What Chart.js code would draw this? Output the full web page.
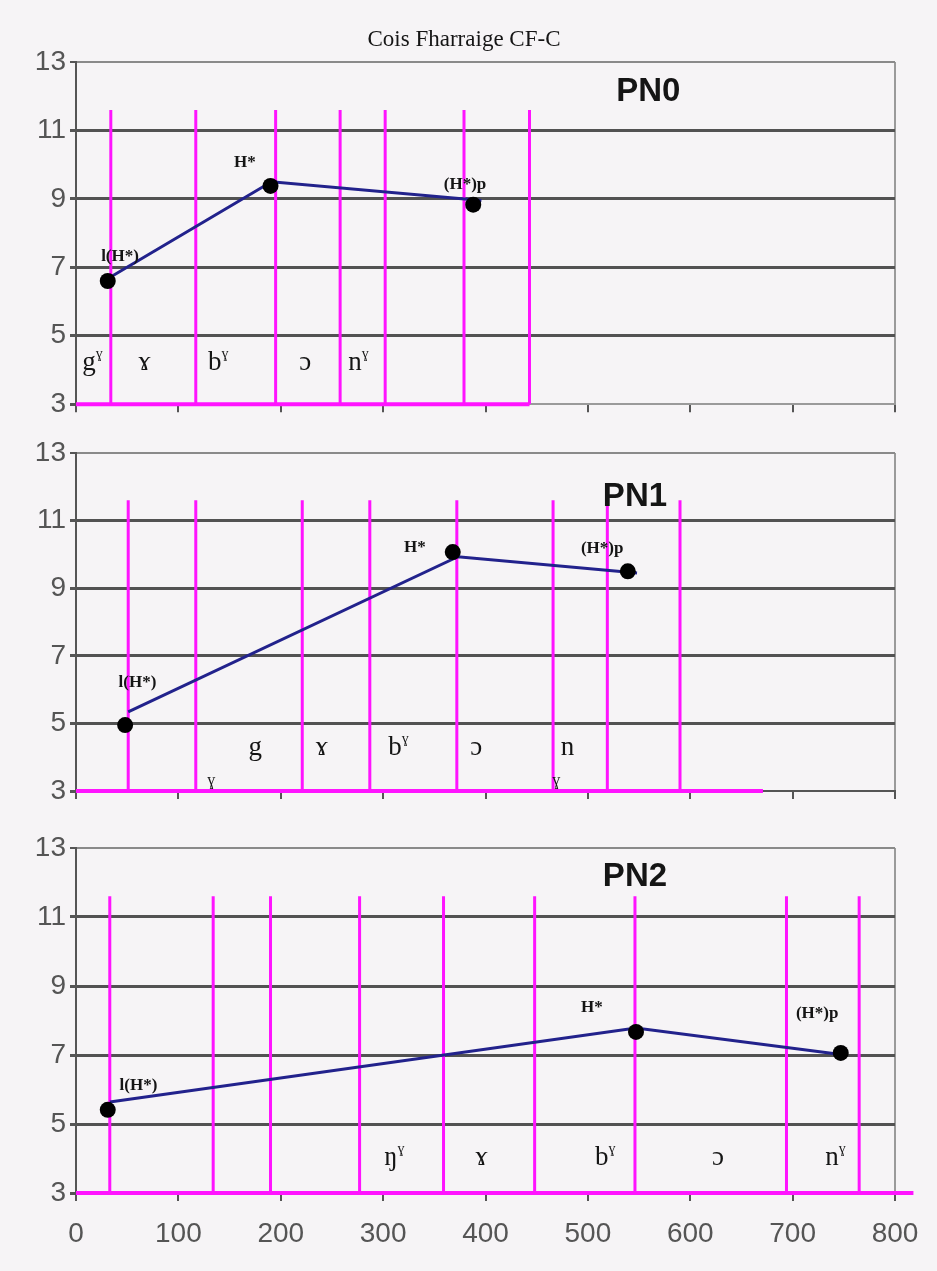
<!DOCTYPE html>
<html>
<head>
<meta charset="utf-8">
<title>Cois Fharraige CF-C</title>
<script src="https://cdn.jsdelivr.net/npm/chart.js@4.4.1/dist/chart.umd.min.js"></script>
<style>
  html, body { margin: 0; padding: 0; background: #f6f4f6; }
  body { width: 937px; height: 1271px; position: relative; overflow: hidden; }
  canvas { position: absolute; left: 0; }
  #pn0 { top: 0; }
  #pn1 { top: 425px; }
  #pn2 { top: 815px; }
</style>
</head>
<body>
<canvas id="pn0" width="937" height="425"></canvas>
<canvas id="pn1" width="937" height="390"></canvas>
<canvas id="pn2" width="937" height="456"></canvas>
<script>
// values
const chartTitle = 'Cois Fharraige CF-C';
const xMin = 0, xMax = 800, xStep = 100;
const yMin = 3, yMax = 13, yStep = 2;
const boundTop = 11.6;          // magenta segment boundaries stop here
const pointNames = ['l(H*)', 'H*', '(H*)p'];

// PN0
const pn0PointX = [31, 190, 388];
const pn0PointY = [6.6, 9.38, 8.83];
const pn0LineX = [35, 191, 396];
const pn0LineY = [6.74, 9.5, 8.95];
const pn0NameX = [43, 165, 380];
const pn0NameY = [7.32, 10.07, 9.43];
const pn0Bounds = [34, 117, 195, 258, 302, 379, 443];
const pn0BaseEnd = 443;
const pn0Segs = ['g', 'ɤ', 'b', 'ɔ', 'n'];
const pn0SegSup = ['ɣ', '', 'ɣ', '', 'ɣ'];
const pn0SegX = [16, 67, 139, 224, 276];
const pn0SegY = [4.0, 4.0, 4.0, 4.0, 4.0];
const pn0Tag = ['PN0', 559, 12.13];

// PN1
const pn1PointX = [48, 368, 539];
const pn1PointY = [4.95, 10.07, 9.5];
const pn1LineX = [51, 373, 548];
const pn1LineY = [5.34, 9.93, 9.45];
const pn1NameX = [60, 331, 514];
const pn1NameY = [6.22, 10.19, 10.16];
const pn1Bounds = [51, 117, 221, 287, 372, 466, 519, 590];
const pn1BaseEnd = 671;
const pn1Segs = ['g', 'ɤ', 'b', 'ɔ', 'n'];
const pn1SegSup = ['', '', 'ɣ', '', ''];
const pn1SegX = [175, 240, 315, 391, 480];
const pn1SegY = [4.07, 4.07, 4.07, 4.07, 4.07];
const pn1LooseX = [132, 469];
const pn1LooseY = [3.18, 3.18];
const pn1Tag = ['PN1', 546, 11.7];

// PN2
const pn2PointX = [31, 547, 747];
const pn2PointY = [5.41, 7.67, 7.06];
const pn2LineX = [33, 547, 751];
const pn2LineY = [5.64, 7.78, 7.0];
const pn2NameX = [61, 504, 724];
const pn2NameY = [6.1, 8.36, 8.2];
const pn2Bounds = [33, 134, 190, 277, 359, 448, 546, 694, 765];
const pn2BaseEnd = 818;
const pn2Segs = ['ŋ', 'ɤ', 'b', 'ɔ', 'n'];
const pn2SegSup = ['ɣ', '', 'ɣ', '', 'ɣ'];
const pn2SegX = [311, 396, 517, 627, 742];
const pn2SegY = [3.8, 3.8, 3.8, 3.8, 3.8];
const pn2Tag = ['PN2', 546, 12.16];

const sansFont = '"Liberation Sans", Arial, sans-serif';
const serifFont = '"Liberation Serif", "Times New Roman", serif';
const magenta = '#ff14ff';

// labels drawn on top of the datasets, placed through the scales
function panelText(p) {
  return {
    id: 'panelText',
    afterDatasetsDraw(chart) {
      const { ctx, scales: { x, y } } = chart;
      ctx.save();
      ctx.fillStyle = '#151515';
      ctx.textAlign = 'center';

      if (p.title) {
        ctx.font = '23px ' + serifFont;
        ctx.textBaseline = 'middle';
        ctx.fillText(p.title, 464, 40);
      }

      // point names
      ctx.font = 'bold 17px ' + serifFont;
      ctx.textBaseline = 'middle';
      p.nameX.forEach((v, i) => {
        ctx.fillText(pointNames[i], x.getPixelForValue(v), y.getPixelForValue(p.nameY[i]));
      });

      // panel tag
      ctx.font = 'bold 33px ' + sansFont;
      ctx.fillText(p.tag[0], x.getPixelForValue(p.tag[1]), y.getPixelForValue(p.tag[2]));

      // segment symbols
      ctx.textBaseline = 'alphabetic';
      ctx.textAlign = 'left';
      p.segs.forEach((s, i) => {
        ctx.font = '27px ' + serifFont;
        const w1 = ctx.measureText(s).width;
        ctx.font = '14px ' + serifFont;
        const w2 = p.segSup[i] ? ctx.measureText(p.segSup[i]).width : 0;
        const left = x.getPixelForValue(p.segX[i]) - (w1 + w2) / 2;
        const base = y.getPixelForValue(p.segY[i]);
        ctx.font = '27px ' + serifFont;
        ctx.fillText(s, left, base);
        if (p.segSup[i]) {
          ctx.font = '14px ' + serifFont;
          ctx.fillText(p.segSup[i], left + w1, base - 12);
        }
      });
      if (p.looseX) {
        ctx.font = '16px ' + serifFont;
        ctx.textAlign = 'center';
        p.looseX.forEach((v, i) => {
          ctx.fillText('ɣ', x.getPixelForValue(v), y.getPixelForValue(p.looseY[i]));
        });
      }
      ctx.restore();
    }
  };
}

function makePanel(id, p) {
  const bounds = [];
  p.bounds.forEach(b => {
    bounds.push({ x: b, y: yMin }, { x: b, y: boundTop }, { x: b, y: null });
  });

  return new Chart(document.getElementById(id), {
    type: 'line',
    data: {
      datasets: [{
        data: p.pointX.map((v, i) => ({ x: v, y: p.pointY[i] })),
        showLine: false,
        pointRadius: 8,
        pointBackgroundColor: '#000',
        pointBorderWidth: 0,
        order: 0
      }, {
        data: p.lineX.map((v, i) => ({ x: v, y: p.lineY[i] })),
        borderColor: '#22228c',
        borderWidth: 3,
        pointRadius: 0,
        order: 1
      }, {
        data: bounds,
        borderColor: magenta,
        borderWidth: 3,
        pointRadius: 0,
        spanGaps: false,
        order: 2
      }, {
        data: [{ x: xMin, y: yMin }, { x: p.baseEnd, y: yMin }],
        borderColor: magenta,
        borderWidth: 4,
        pointRadius: 0,
        clip: false,
        order: 3
      }]
    },
    options: {
      responsive: false,
      animation: false,
      devicePixelRatio: 1,
      layout: { padding: { top: p.padTop, right: 42, left: 0, bottom: 0 } },
      plugins: { legend: { display: false }, tooltip: { enabled: false } },
      scales: {
        x: {
          type: 'linear',
          min: xMin,
          max: xMax,
          ticks: {
            stepSize: xStep,
            display: p.xLabels,
            maxRotation: 0,
            padding: 16,
            color: '#555',
            font: { family: sansFont, size: 28 }
          },
          grid: {
            color: c => c.tick && c.tick.value === xMax ? '#9a9a9a' : 'rgba(0,0,0,0)',
            lineWidth: 2,
            tickColor: '#555',
            tickLength: 8
          },
          border: { color: p.axisColor, width: 2 },
          afterFit: s => { s.height = p.xHeight; }
        },
        y: {
          min: yMin,
          max: yMax,
          ticks: {
            stepSize: yStep,
            padding: 4,
            color: '#555',
            font: { family: sansFont, size: 28 }
          },
          grid: {
            color: c => {
              const v = c.tick && c.tick.value;
              if (v === yMax) return '#8a8a8a';
              if (v === yMin) return 'rgba(0,0,0,0)';
              return '#525252';
            },
            lineWidth: c => (c.tick && c.tick.value === yMax ? 2 : 3),
            tickColor: '#555',
            tickLength: 6
          },
          border: { color: '#555', width: 2 },
          afterFit: s => { s.width = 76; }
        }
      }
    },
    plugins: [panelText(p)]
  });
}

makePanel('pn0', {
  title: chartTitle, padTop: 62, xHeight: 17, xLabels: false, axisColor: '#9a9a9a',
  pointX: pn0PointX, pointY: pn0PointY, lineX: pn0LineX, lineY: pn0LineY,
  nameX: pn0NameX, nameY: pn0NameY, bounds: pn0Bounds, baseEnd: pn0BaseEnd,
  segs: pn0Segs, segSup: pn0SegSup, segX: pn0SegX, segY: pn0SegY, tag: pn0Tag
});

makePanel('pn1', {
  padTop: 28, xHeight: 24, xLabels: false, axisColor: '#555',
  pointX: pn1PointX, pointY: pn1PointY, lineX: pn1LineX, lineY: pn1LineY,
  nameX: pn1NameX, nameY: pn1NameY, bounds: pn1Bounds, baseEnd: pn1BaseEnd,
  segs: pn1Segs, segSup: pn1SegSup, segX: pn1SegX, segY: pn1SegY,
  looseX: pn1LooseX, looseY: pn1LooseY, tag: pn1Tag
});

makePanel('pn2', {
  padTop: 33, xHeight: 78, xLabels: true, axisColor: '#9a9a9a',
  pointX: pn2PointX, pointY: pn2PointY, lineX: pn2LineX, lineY: pn2LineY,
  nameX: pn2NameX, nameY: pn2NameY, bounds: pn2Bounds, baseEnd: pn2BaseEnd,
  segs: pn2Segs, segSup: pn2SegSup, segX: pn2SegX, segY: pn2SegY, tag: pn2Tag
});
</script>
</body>
</html>
